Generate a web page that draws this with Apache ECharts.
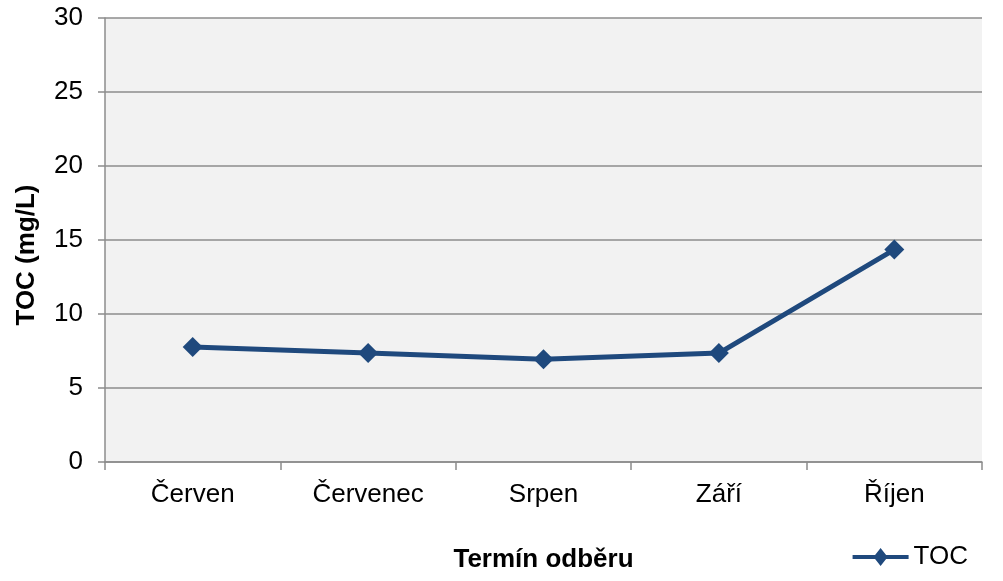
<!DOCTYPE html>
<html>
<head>
<meta charset="utf-8">
<script src="https://cdn.jsdelivr.net/npm/echarts@6/dist/echarts.min.js"></script>
<style>
  html, body { margin: 0; padding: 0; background: #fff; }
  #chart { width: 1003px; height: 581px; }
</style>
</head>
<body>
<div id="chart"></div>
<script>
// Data
const months = ['Červen', 'Červenec', 'Srpen', 'Září', 'Říjen'];
const tocValues = [7.77, 7.36, 6.94, 7.36, 14.35];
const seriesName = 'TOC';

const FONT = 'Liberation Sans, Arial, sans-serif';
const lineColor = '#1f497d';
const gridGray = '#8c8c8c';

const chart = echarts.init(document.getElementById('chart'), null, { renderer: 'canvas' });

const option = {
  animation: false,
  textStyle: { fontFamily: FONT },
  grid: {
    left: 105, right: 21, top: 18, bottom: 119,
    outerBoundsMode: 'none',
    containLabel: false,
    show: true, backgroundColor: '#f2f2f2', borderWidth: 0
  },
  legend: {
    right: 30, top: 539,
    itemWidth: 56, itemHeight: 18, itemGap: 5,
    textStyle: { fontSize: 26, color: '#000', fontFamily: FONT },
    data: [{ name: seriesName, icon: 'path://M0,7 L22.5,7 L28,0 L33.5,7 L56,7 L56,11 L33.5,11 L28,18 L22.5,11 L0,11 Z' }]
  },
  xAxis: {
    type: 'category',
    data: months,
    boundaryGap: true,
    name: 'Termín odběru',
    nameLocation: 'middle',
    nameGap: 85,
    nameTextStyle: { fontSize: 26, fontWeight: 'bold', color: '#000', fontFamily: FONT },
    axisLine: { lineStyle: { color: gridGray, width: 1.5 } },
    axisTick: { show: true, length: 8, alignWithLabel: false, lineStyle: { color: gridGray, width: 1.5 } },
    axisLabel: { fontSize: 26, color: '#000', margin: 20, fontFamily: FONT },
    splitLine: { show: false }
  },
  yAxis: {
    type: 'value',
    min: 0, max: 30, interval: 5,
    name: 'TOC (mg/L)',
    nameLocation: 'middle',
    nameGap: 65,
    nameRotate: 90,
    nameTextStyle: { fontSize: 26, fontWeight: 'bold', color: '#000', fontFamily: FONT, padding: [0, 30, 0, 0] },
    axisLine: { show: true, lineStyle: { color: gridGray, width: 1.5 } },
    axisTick: { show: true, length: 7, lineStyle: { color: gridGray, width: 1.5 } },
    axisLabel: { fontSize: 26, color: '#000', margin: 22, fontFamily: FONT },
    splitLine: { show: true, lineStyle: { color: gridGray, width: 1.5 } }
  },
  series: [{
    name: seriesName,
    type: 'line',
    data: tocValues,
    symbol: 'diamond',
    symbolSize: 20,
    itemStyle: { color: lineColor },
    lineStyle: { color: lineColor, width: 5 }
  }]
};

chart.setOption(option);
</script>
</body>
</html>
